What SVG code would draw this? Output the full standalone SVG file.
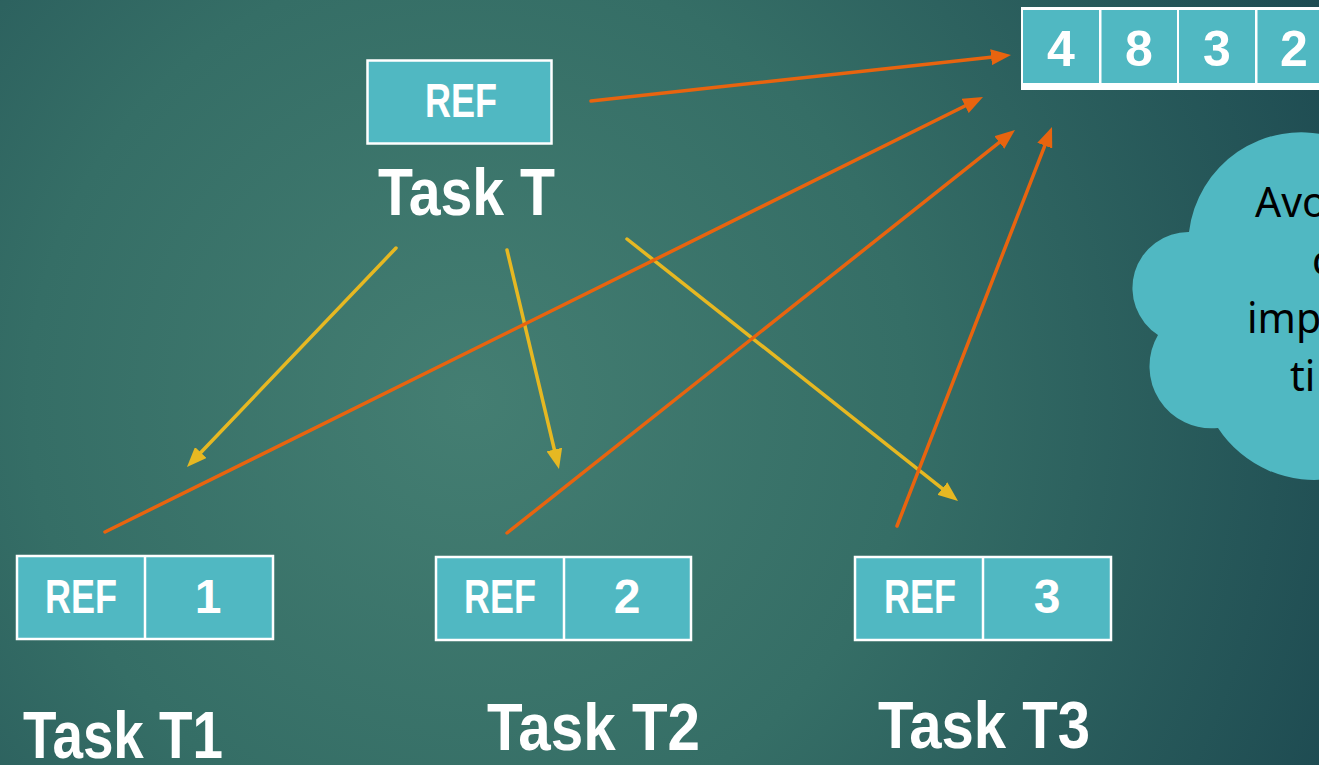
<svg xmlns="http://www.w3.org/2000/svg" width="1319" height="765" viewBox="0 0 1319 765">
  <defs>
    <radialGradient id="bg" gradientUnits="userSpaceOnUse" cx="470" cy="400" r="980">
      <stop offset="0" stop-color="#447e72"/>
      <stop offset="0.45" stop-color="#356e66"/>
      <stop offset="1" stop-color="#1c4850"/>
    </radialGradient>
    <marker id="headY" markerUnits="userSpaceOnUse" markerWidth="20" markerHeight="16" refX="2" refY="8" orient="auto">
      <path d="M0,0 L20,8 L0,16 Z" fill="#e6b822"/>
    </marker>
    <marker id="headO" markerUnits="userSpaceOnUse" markerWidth="20" markerHeight="16" refX="2" refY="8" orient="auto">
      <path d="M0,0 L20,8 L0,16 Z" fill="#e8640f"/>
    </marker>
  </defs>
  <style>
    .cell { fill: #50b8c2; stroke: #ffffff; stroke-width: 2.5; }
    .lbl { font-family: "Liberation Sans", Arial, sans-serif; font-weight: bold; fill: #ffffff; }
    .box { font-size: 48px; text-anchor: middle; }
    .task { font-size: 66px; }
    .note { font-family: "Noto Sans", "Open Sans", sans-serif; font-size: 41px; fill: #000000; }
    .y { fill: none; stroke: #e6b822; stroke-width: 3.5; stroke-linecap: round; marker-end: url(#headY); }
    .o { fill: none; stroke: #e8640f; stroke-width: 3.5; stroke-linecap: round; marker-end: url(#headO); }
  </style>

  <rect x="0" y="0" width="1319" height="765" fill="url(#bg)"/>

  <!-- shared array -->
  <g id="array">
    <rect x="1021" y="7" width="310" height="83" fill="#ffffff"/>
    <rect x="1023" y="10" width="76" height="73" fill="#50b8c2"/>
    <rect x="1101.5" y="10" width="75.5" height="73" fill="#50b8c2"/>
    <rect x="1179" y="10" width="76" height="73" fill="#50b8c2"/>
    <rect x="1257.5" y="10" width="76" height="73" fill="#50b8c2"/>
    <g class="lbl" font-size="50" text-anchor="middle">
      <text x="1061" y="66">4</text>
      <text x="1139" y="66">8</text>
      <text x="1217" y="66">3</text>
      <text x="1294" y="66">2</text>
    </g>
  </g>

  <!-- note cloud -->
  <g id="cloud">
    <path d="M1330,136 A113,113 0 0 0 1189,232 A56,56 0 0 0 1158,335 A62,62 0 0 0 1218,428 A115,115 0 0 0 1335,478 L1335,136 Z" fill="#50b8c2"/>
    <text class="note" x="1255" y="217">Avo</text>
    <text class="note" x="1312" y="275">c</text>
    <text class="note" x="1247" y="333">imp</text>
    <text class="note" x="1290" y="391">ti</text>
  </g>

  <!-- parent task -->
  <g id="task-t">
    <rect class="cell" x="367.5" y="60.5" width="184" height="83"/>
    <text class="lbl box" x="461" y="117" textLength="72" lengthAdjust="spacingAndGlyphs">REF</text>
    <text class="lbl task" x="378" y="215" font-size="64" textLength="177" lengthAdjust="spacingAndGlyphs">Task T</text>
  </g>

  <!-- child tasks -->
  <g id="task-t1">
    <rect class="cell" x="17" y="556" width="256" height="83"/>
    <line x1="145" y1="556" x2="145" y2="639" stroke="#ffffff" stroke-width="2.5"/>
    <text class="lbl box" x="81" y="613" textLength="72" lengthAdjust="spacingAndGlyphs">REF</text>
    <text class="lbl box" x="208" y="613">1</text>
    <text class="lbl task" x="23" y="758" textLength="200" lengthAdjust="spacingAndGlyphs">Task T1</text>
  </g>

  <g id="task-t2">
    <rect class="cell" x="436" y="557" width="255" height="83"/>
    <line x1="564" y1="557" x2="564" y2="640" stroke="#ffffff" stroke-width="2.5"/>
    <text class="lbl box" x="500" y="613" textLength="72" lengthAdjust="spacingAndGlyphs">REF</text>
    <text class="lbl box" x="627" y="613">2</text>
    <text class="lbl task" x="487" y="750" textLength="213" lengthAdjust="spacingAndGlyphs">Task T2</text>
  </g>

  <g id="task-t3">
    <rect class="cell" x="855" y="557" width="256" height="83"/>
    <line x1="983" y1="557" x2="983" y2="640" stroke="#ffffff" stroke-width="2.5"/>
    <text class="lbl box" x="920" y="613" textLength="72" lengthAdjust="spacingAndGlyphs">REF</text>
    <text class="lbl box" x="1047" y="613">3</text>
    <text class="lbl task" x="878" y="748" textLength="212" lengthAdjust="spacingAndGlyphs">Task T3</text>
  </g>

  <!-- connectors: line ends stop 18px short of each tip, the marker covers the rest -->
  <g id="connectors">
    <line class="y" x1="396" y1="248" x2="199.4" y2="454"/>
    <line class="y" x1="507" y1="250" x2="554.8" y2="451.5"/>
    <line class="y" x1="627" y1="239" x2="943.9" y2="489.8"/>
    <line class="o" x1="591" y1="101" x2="993.1" y2="57"/>
    <line class="o" x1="105" y1="532" x2="966.9" y2="105"/>
    <line class="o" x1="507" y1="533" x2="1000.9" y2="141.2"/>
    <line class="o" x1="897" y1="526" x2="1045.5" y2="143.8"/>
  </g>
</svg>
